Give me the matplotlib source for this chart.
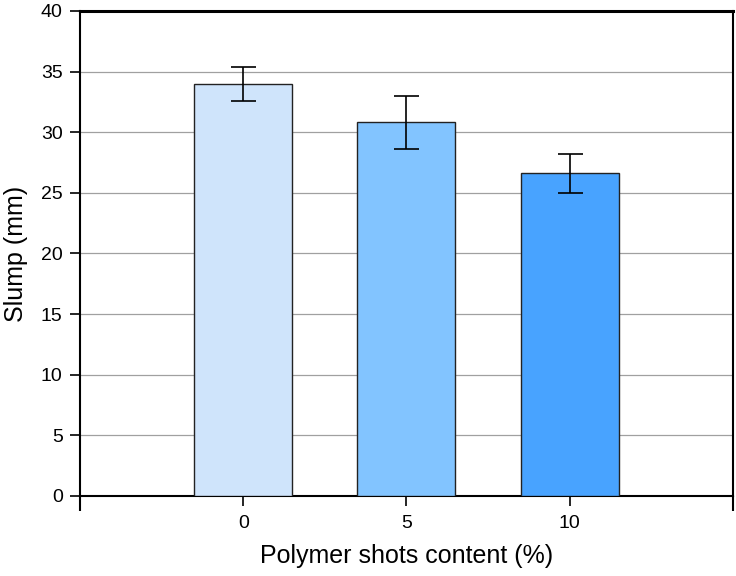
import matplotlib.pyplot as plt

plt.rcParams['font.family'] = ['Liberation Sans', 'DejaVu Sans']

# data
categories = ['0', '5', '10']
slump = [34.0, 30.8, 26.6]
slump_err = [1.4, 2.2, 1.6]
colors = ['#CFE4FB', '#82C4FF', '#48A3FF']

fig = plt.figure(figsize=(7.36, 5.76), dpi=100)
ax = fig.add_axes([0.1087, 0.139, 0.887, 0.842])

x = list(range(len(categories)))
ax.bar(x, slump, width=0.6, color=colors, edgecolor='#222222', linewidth=1.0, zorder=3)
ax.errorbar(x, slump, yerr=slump_err, fmt='none', ecolor='black',
            elinewidth=1.2, capsize=9, capthick=1.2, zorder=4)

ax.set_xlim(-1, 3)
ax.set_ylim(0, 40)
ax.set_yticks(range(0, 41, 5))
ax.set_xticks(x)
ax.set_xticklabels(categories)
ax.set_xticks([-1, 3], minor=True)
ax.tick_params(axis='x', which='minor', length=11, width=1.5, direction='out')
ax.tick_params(axis='both', which='major', length=7.5, width=1.2, direction='out', labelsize=14)
ax.tick_params(axis='x', which='major', pad=6)
ax.tick_params(axis='y', which='major', pad=5)

ax.yaxis.grid(True, color='#A0A0A0', linewidth=0.9, zorder=0)
ax.set_axisbelow(True)
for s in ax.spines.values():
    s.set_linewidth(1.5)
ax.spines['top'].set_linewidth(2.2)

ax.set_xlabel('Polymer shots content (%)', fontsize=18, labelpad=9)
ax.set_ylabel('Slump (mm)', fontsize=18, labelpad=9)

fig.savefig('out.png', dpi=100)
